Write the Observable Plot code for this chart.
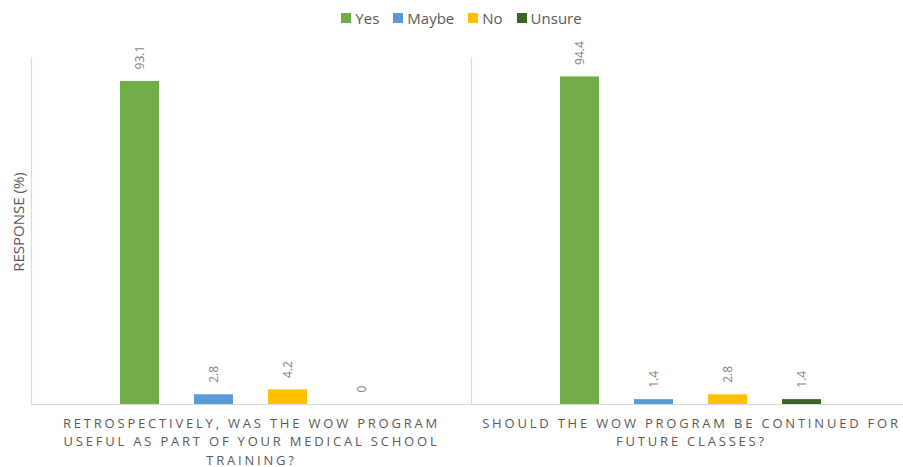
<!DOCTYPE html>
<html>
<head>
<meta charset="utf-8">
<script src="https://cdn.jsdelivr.net/npm/d3@7"></script>
<script src="https://cdn.jsdelivr.net/npm/@observablehq/plot@0.6"></script>
<style>
  body { margin: 0; background: #fff; font-family: "Open Sans", sans-serif; }
  #legend { height: 36px; display: flex; justify-content: center; align-items: center; padding-left: 20px; box-sizing: border-box; }
  .item { display: flex; align-items: center; margin: 0 7px; color: #595959; font-size: 15px; }
  .sw { width: 10px; height: 10px; margin-right: 4px; }
  g[aria-description="question-label"] text, g[aria-description="question-label"] tspan { letter-spacing: 2.8px; }
</style>
</head>
<body>
<div id="legend"></div>
<div id="chart"></div>
<script>
const questions = [
  "RETROSPECTIVELY, WAS THE WOW PROGRAM\nUSEFUL AS PART OF YOUR MEDICAL SCHOOL\nTRAINING?",
  "SHOULD THE WOW PROGRAM BE CONTINUED FOR\nFUTURE CLASSES?"
];
const categories = ["Yes", "Maybe", "No", "Unsure"];
const q1Values = [93.1, 2.8, 4.2, 0];
const q2Values = [94.4, 1.4, 2.8, 1.4];
const colors = ["#70AD47", "#5B9BD5", "#FFC000", "#3B6326"];
const yLabel = "RESPONSE (%)";

const series = [q1Values, q2Values];
const data = questions.flatMap((q, i) =>
  categories.map((c, j) => ({question: q, category: c, value: series[i][j]}))
);

const legend = document.getElementById("legend");
categories.forEach((c, i) => {
  const it = document.createElement("div");
  it.className = "item";
  it.innerHTML = `<span class="sw" style="background:${colors[i]}"></span><span>${c}</span>`;
  legend.appendChild(it);
});

const chart = Plot.plot({
  width: 903,
  height: 431,
  marginTop: 21,
  marginBottom: 63,
  marginLeft: 31,
  marginRight: 0,
  style: {fontFamily: "Open Sans, sans-serif", background: "#fff", overflow: "visible"},
  fx: {domain: questions, range: [31, 911], padding: 0, axis: null},
  x: {domain: categories, paddingInner: 0.467, paddingOuter: 1.167, axis: null},
  y: {domain: [0, 100], axis: null},
  color: {domain: categories, range: colors},
  marks: [
    Plot.frame({anchor: "left", stroke: "#d9d9d9", strokeWidth: 1.2}),
    Plot.ruleY([0], {stroke: "#d9d9d9", strokeWidth: 1.2}),
    Plot.barY(data, {fx: "question", x: "category", y: "value", fill: "category"}),
    Plot.text(data, {
      fx: "question", x: "category", y: "value",
      text: d => String(d.value),
      rotate: -90, textAnchor: "start", dy: -12,
      fill: "#7f7f7f", fontSize: 12
    }),
    Plot.text(questions, {
      fx: d => d, text: d => d,
      frameAnchor: "bottom", lineAnchor: "top", dy: 10,
      lineHeight: 1.42, fontSize: 13, fill: "#595959",
      ariaDescription: "question-label"
    }),
    Plot.text([questions[0]], {
      fx: d => d, text: () => yLabel,
      frameAnchor: "left", textAnchor: "middle", rotate: -90, dx: -12, dy: -9,
      fontSize: 15, fill: "#595959"
    })
  ]
});
document.getElementById("chart").appendChild(chart);
d3.select(chart).selectAll('g[aria-description="question-label"] text').style("letter-spacing", "2.8px");
</script>
</body>
</html>
